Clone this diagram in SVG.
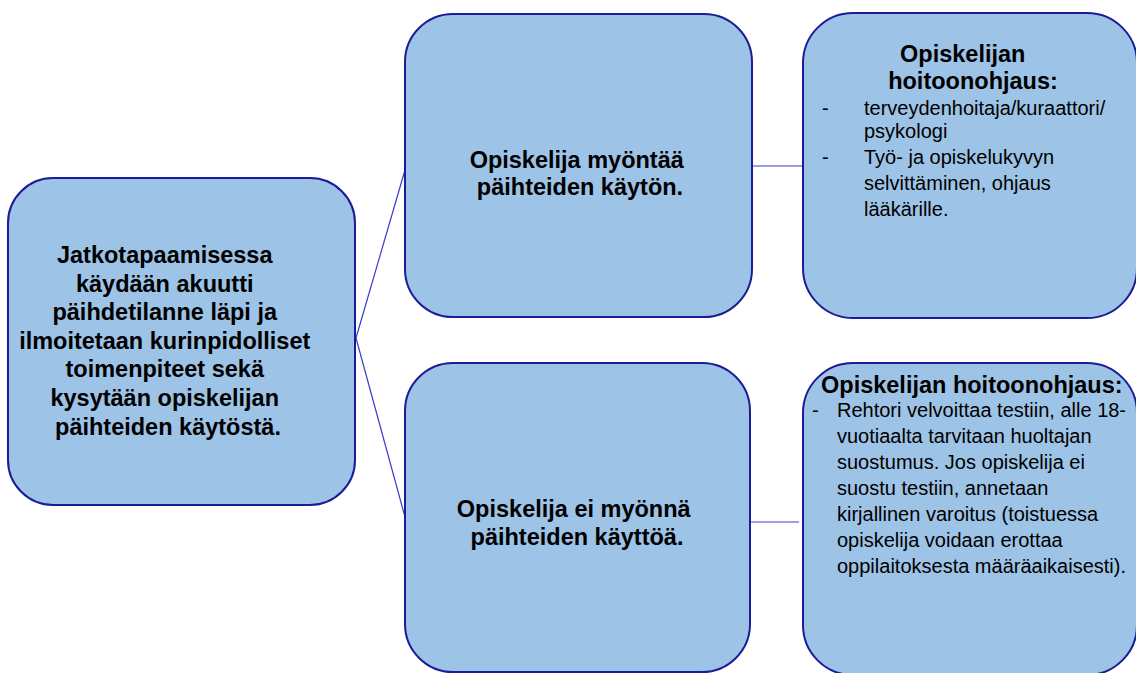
<svg xmlns="http://www.w3.org/2000/svg" width="1136" height="673" viewBox="0 0 1136 673">
<style>
.box{fill:#9DC3E6;stroke:#1C1C96;stroke-width:2}
.conn{stroke:#3A3AD0;stroke-width:1.2;fill:none}
.conn2{stroke:#7C7CE4;stroke-width:1.6;fill:none}
.b{font-family:"Liberation Sans",Arial,sans-serif;font-weight:bold;font-size:23.5px;fill:#000}
.r{font-family:"Liberation Sans",Arial,sans-serif;font-size:20px;fill:#000}
</style>
<rect width="1136" height="673" fill="#fff"/>
<g id="connectors">
<line class="conn" x1="356" y1="338" x2="405" y2="170"/>
<line class="conn" x1="356" y1="338" x2="405" y2="517"/>
<line class="conn" x1="752" y1="166" x2="803" y2="166"/>
<line class="conn2" x1="747" y1="522" x2="799" y2="522"/>
</g>
<g id="node-start">
<rect class="box" x="8" y="178" width="347" height="327" rx="45"/>
<text class="b" text-anchor="middle">
<tspan x="168" y="263">Jatkotapaamisessa</tspan>
<tspan x="168" y="292">käydään akuutti</tspan>
<tspan x="168" y="320">päihdetilanne läpi ja</tspan>
<tspan x="168" y="349">ilmoitetaan kurinpidolliset</tspan>
<tspan x="168" y="377">toimenpiteet sekä</tspan>
<tspan x="168" y="406">kysytään opiskelijan</tspan>
<tspan x="168" y="435">päihteiden käytöstä.</tspan>
</text>
</g>
<g id="node-admits">
<rect class="box" x="405" y="14" width="347" height="303" rx="48"/>
<text class="b" text-anchor="middle">
<tspan x="580" y="168">Opiskelija myöntää</tspan>
<tspan x="580" y="195">päihteiden käytön.</tspan>
</text>
</g>
<g id="node-denies">
<rect class="box" x="405" y="363" width="345" height="309" rx="48"/>
<text class="b" text-anchor="middle">
<tspan x="577" y="517">Opiskelija ei myönnä</tspan>
<tspan x="577" y="545">päihteiden käyttöä.</tspan>
</text>
</g>
<g id="node-referral-1">
<rect class="box" x="803" y="13" width="334" height="305" rx="50"/>
<text class="b" text-anchor="middle">
<tspan x="966" y="62">Opiskelijan</tspan>
<tspan x="973" y="89">hoitoonohjaus:</tspan>
</text>
<text class="r">
<tspan x="822" y="115">-</tspan>
<tspan x="864" y="115">terveydenhoitaja/kuraattori/</tspan>
<tspan x="864" y="138">psykologi</tspan>
<tspan x="822" y="164">-</tspan>
<tspan x="864" y="164">Työ- ja opiskelukyvyn</tspan>
<tspan x="864" y="190">selvittäminen, ohjaus</tspan>
<tspan x="864" y="216">lääkärille.</tspan>
</text>
</g>
<g id="node-referral-2">
<rect class="box" x="803" y="363" width="334" height="312" rx="50"/>
<text class="b">
<tspan x="821" y="393">Opiskelijan hoitoonohjaus:</tspan>
</text>
<text class="r">
<tspan x="812" y="417">-</tspan>
<tspan x="837" y="417">Rehtori velvoittaa testiin, alle 18-</tspan>
<tspan x="837" y="443">vuotiaalta tarvitaan huoltajan</tspan>
<tspan x="837" y="469">suostumus. Jos opiskelija ei</tspan>
<tspan x="837" y="495">suostu testiin, annetaan</tspan>
<tspan x="837" y="521">kirjallinen varoitus (toistuessa</tspan>
<tspan x="837" y="547">opiskelija voidaan erottaa</tspan>
<tspan x="837" y="573">oppilaitoksesta määräaikaisesti).</tspan>
</text>
</g>
</svg>
